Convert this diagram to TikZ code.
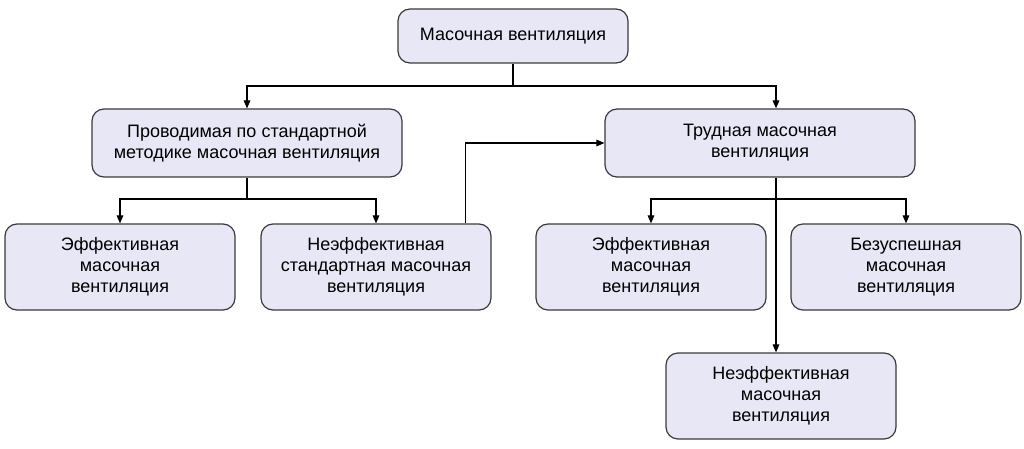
\documentclass[tikz,border=0pt]{standalone}
\usepackage{fontspec}
\setmainfont{Liberation Sans}
\usetikzlibrary{positioning, arrows.meta}
\definecolor{boxfill}{HTML}{E8E7F5}
\definecolor{boxline}{HTML}{3A3A3A}

\begin{document}
\begin{tikzpicture}
    [
        x=0.75pt, y=-0.75pt,
        box_node/.style={rectangle, rounded corners=9pt, draw=boxline, fill=boxfill, line width=0.9pt, align=center, font=\fontsize{13.5pt}{15.75pt}\selectfont, inner sep=0pt},
        wide_node/.style={box_node, minimum width=232.5pt, minimum height=51pt},
        small_node/.style={box_node, minimum width=172.5pt, minimum height=64.5pt},
        conn/.style={line width=0.8pt, color=black, -{Triangle[length=6pt, width=5pt]}},
    ]
        \useasboundingbox (0,0) rectangle (1024,449);
        \node[box_node, minimum width=172.5pt, minimum height=40.5pt] (root) at (513,36) {Масочная вентиляция} ;
        \node[wide_node] (standard) at (247,143) {Проводимая по стандартной\\методике масочная вентиляция} ;
        \node[wide_node] (difficult) at (760,143) {Трудная масочная\\вентиляция} ;
        \node[small_node] (eff1) at (120,267) {Эффективная\\масочная\\вентиляция} ;
        \node[small_node] (ineffstd) at (376,267) {Неэффективная\\стандартная масочная\\вентиляция} ;
        \node[small_node] (eff2) at (651,267) {Эффективная\\масочная\\вентиляция} ;
        \node[small_node] (fail) at (906,267) {Безуспешная\\масочная\\вентиляция} ;
        \node[small_node] (ineff) at (781,396) {Неэффективная\\масочная\\вентиляция} ;
        % branch points
        \coordinate (splitroot) at (513,86) ;
        \coordinate (splitstd) at (247,199) ;
        \coordinate (trunk) at (776,199) ;
        \draw[line width=0.8pt] (root) -- (splitroot) ;
        \draw[conn] (splitroot) -| (standard) ;
        \draw[conn] (splitroot) -| (difficult.north -| trunk) ;
        \draw[line width=0.8pt] (standard) -- (splitstd) ;
        \draw[conn] (splitstd) -| (eff1) ;
        \draw[conn] (splitstd) -| (ineffstd) ;
        \draw[conn] ([xshift=67pt]ineffstd.north) |- (difficult) ;
        \draw[conn] (difficult.south -| trunk) -- (ineff.north -| trunk) ;
        \draw[conn] (trunk) -| (eff2) ;
        \draw[conn] (trunk) -| (fail) ;
    \end{tikzpicture}
\end{document}
